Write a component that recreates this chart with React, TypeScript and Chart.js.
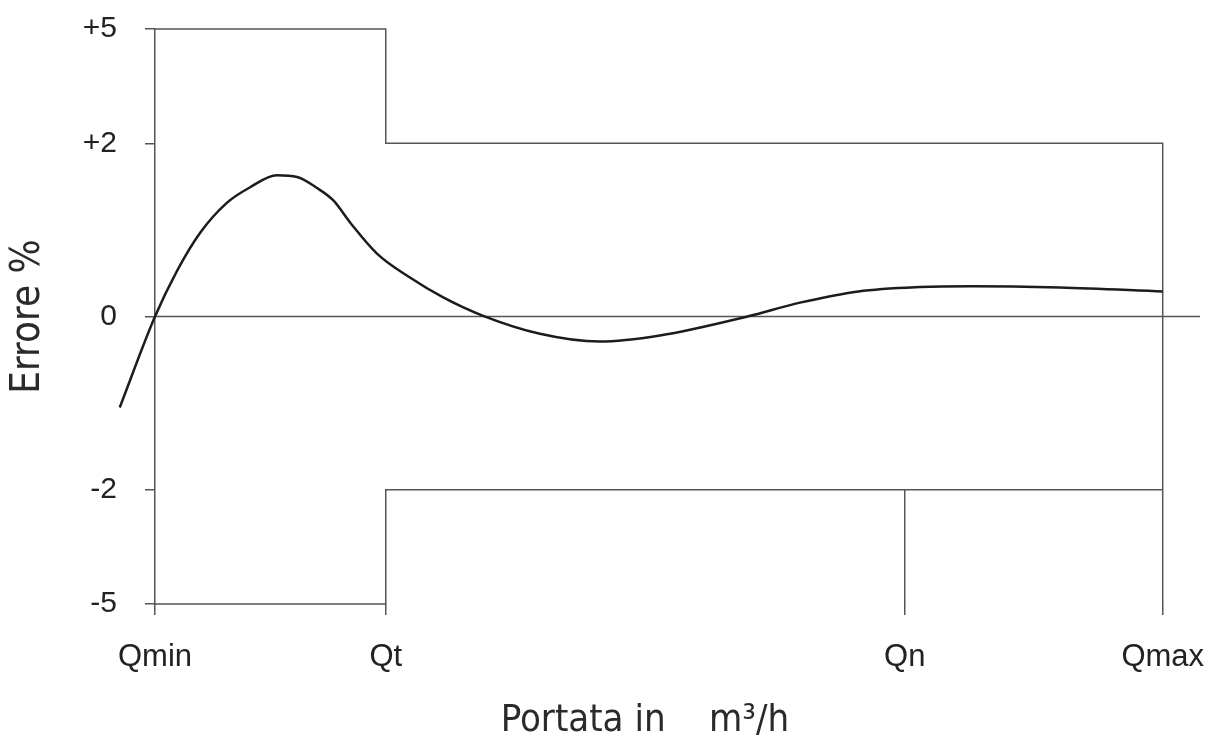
import React, { useEffect, useRef } from "react";
import { Chart, registerables } from "chart.js";

Chart.register(...registerables);

// Flow axis (abstract units: Qmin = 0, Qmax = 100)
const qTickValues = [0, 22.9, 74.4, 100];
const qTickLabels = ["Qmin", "Qt", "Qn", "Qmax"];
const qAxisEnd = 103.7;

// Error axis (percent)
const errTickValues = [-5, -2, 0, 2, 5];
const errTickLabels = ["-5", "-2", "0", "+2", "+5"];

// Error curve
const curveQ = [-3.5, 0, 2.2, 4.5, 7.1, 9.4, 12.1, 14.1, 16.0, 17.7, 19.4, 22.0, 25.3, 28.6, 32.5, 38.2, 44.1, 50.1, 58.8, 64.0, 69.8, 75.9, 81.0, 89.8, 100];
const curveErr = [-1.05, 0, 0.53, 0.97, 1.31, 1.49, 1.63, 1.61, 1.49, 1.34, 1.08, 0.73, 0.45, 0.22, 0.01, -0.2, -0.29, -0.22, 0, 0.16, 0.29, 0.34, 0.35, 0.335, 0.29];

// Tolerance limits
const upperLimitQ = [0, 22.9, 22.9, 100, 100];
const upperLimitErr = [5, 5, 2, 2, -5];
const lowerLimitQ = [0, 22.9, 22.9, 100];
const lowerLimitErr = [-5, -5, -2, -2];
const qnLineQ = [74.4, 74.4];
const qnLineErr = [-2, -5];
const zeroLineQ = [0, qAxisEnd];
const zeroLineErr = [0, 0];

// axis compression beyond +/-2 %
const OUTER = 0.44;
const toDisp = (v: number) =>
  Math.abs(v) <= 2 ? v : Math.sign(v) * (2 + (Math.abs(v) - 2) * OUTER);

const pts = (xs: number[], ys: number[]) => xs.map((x, i) => ({ x, y: toDisp(ys[i]) }));

const GRAY = "#555555";
const NARROW = "'Liberation Sans Narrow', 'DejaVu Sans Condensed', sans-serif";
const SANS = "'Liberation Sans', Arial, sans-serif";

export default function App() {
  const ref = useRef<HTMLCanvasElement | null>(null);
  useEffect(() => {
    document.body.style.margin = "0";
    if (!ref.current) return;
    const limitStyle = {
      borderColor: GRAY,
      borderWidth: 1.5,
      pointRadius: 0,
      showLine: true,
      tension: 0,
      clip: false as any,
    };
    const chart = new Chart(ref.current, {
      type: "scatter",
      data: {
        datasets: [
          {
            data: pts(curveQ, curveErr),
            borderColor: "#1c1c1c",
            borderWidth: 2.5,
            pointRadius: 0,
            showLine: true,
            cubicInterpolationMode: "monotone",
            clip: false as any,
          },
          { data: pts(upperLimitQ, upperLimitErr), ...limitStyle },
          { data: pts(lowerLimitQ, lowerLimitErr), ...limitStyle },
          { data: pts(qnLineQ, qnLineErr), ...limitStyle },
          { data: pts(zeroLineQ, zeroLineErr), ...limitStyle },
        ],
      },
      options: {
        animation: false,
        responsive: false,
        devicePixelRatio: 1,
        layout: { padding: { top: 29, right: 5, left: 0, bottom: 0 } },
        plugins: { legend: { display: false }, tooltip: { enabled: false } },
        scales: {
          x: {
            type: "linear",
            min: 0,
            max: qAxisEnd,
            afterFit: (s: any) => {
              s.height = 136;
              s.paddingLeft = 0;
              s.paddingRight = 0;
            },
            afterBuildTicks: (s: any) => {
              s.ticks = qTickValues.map((v) => ({ value: v }));
            },
            ticks: {
              autoSkip: false,
              maxRotation: 0,
              padding: 24,
              color: "#222",
              font: { family: SANS, size: 31 },
              callback: (_v: any, i: number) => qTickLabels[i],
            },
            grid: {
              drawOnChartArea: false,
              drawTicks: true,
              tickLength: 11,
              color: GRAY,
              lineWidth: 1.5,
            },
            border: { display: false },
            title: {
              display: true,
              text: "Portata in    m³/h      ",
              color: "#2a2a2a",
              padding: 0,
              font: { family: NARROW, size: 38, lineHeight: 1 },
            },
          },
          y: {
            type: "linear",
            min: toDisp(-5),
            max: toDisp(5),
            afterFit: (s: any) => {
              s.width = 155;
              s.paddingTop = 0;
              s.paddingBottom = 0;
            },
            afterBuildTicks: (s: any) => {
              s.ticks = errTickValues.map((v) => ({ value: toDisp(v) }));
            },
            ticks: {
              autoSkip: false,
              padding: 28,
              color: "#222",
              font: { family: SANS, size: 30 },
              callback: (_v: any, i: number) => errTickLabels[i],
            },
            grid: {
              drawOnChartArea: false,
              drawTicks: true,
              tickLength: 10,
              color: GRAY,
              lineWidth: 1.5,
            },
            border: { display: true, color: GRAY, width: 1.5 },
            title: {
              display: true,
              text: "Errore %",
              color: "#2a2a2a",
              padding: { top: 9, bottom: 0 },
              font: { family: NARROW, size: 40, lineHeight: 1 },
            },
          },
        },
      } as any,
    });
    return () => chart.destroy();
  }, []);
  return (
    <div style={{ width: 1205, height: 740 }}>
      <canvas ref={ref} width={1205} height={740} style={{ display: "block" }} />
    </div>
  );
}
